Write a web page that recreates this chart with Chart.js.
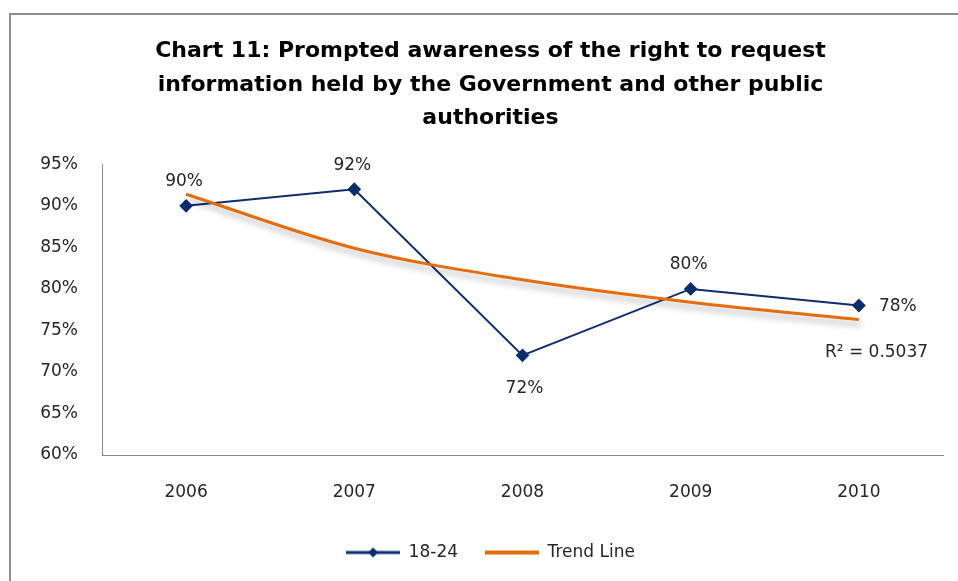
<!DOCTYPE html>
<html>
<head>
<meta charset="utf-8">
<script src="https://cdn.jsdelivr.net/npm/chart.js@4/dist/chart.umd.min.js"></script>
<style>
  html, body { margin: 0; padding: 0; background: #fff; }
  #wrap { width: 958px; height: 581px; }
</style>
</head>
<body>
<div id="wrap"><canvas id="chart11" width="958" height="581"></canvas></div>
<script>
const years = ['2006', '2007', '2008', '2009', '2010'];
const youthValues = [90, 92, 72, 80, 78];
// trend line values
const trendValues = [91.4, 84.9, 81.1, 78.4, 76.3];
const yTicks = [60, 65, 70, 75, 80, 85, 90, 95];
const rSquared = 'R² = 0.5037';

const navy = '#0b2d6e';
const orange = '#e46c0a';
const textFont = 'DejaVu Sans';

// little legend pictures: line with diamond, plain thick line
const makeLegendIcon = function makeLegendIcon(color, lineWidth, diamond) {
  const c = document.createElement('canvas');
  c.width = 54;
  c.height = 12;
  const g = c.getContext('2d');
  g.strokeStyle = color;
  g.lineWidth = lineWidth;
  g.beginPath();
  g.moveTo(0, 6);
  g.lineTo(54, 6);
  g.stroke();
  if (diamond) {
    g.fillStyle = color;
    g.beginPath();
    g.moveTo(27, 1);
    g.lineTo(32, 6);
    g.lineTo(27, 11);
    g.lineTo(22, 6);
    g.closePath();
    g.fill();
  }
  return c;
};

const frameBox = {
  id: 'frameBox',
  beforeDraw(chart) {
    const { ctx } = chart;
    ctx.save();
    ctx.strokeStyle = '#8c8c8c';
    ctx.lineWidth = 2;
    ctx.strokeRect(10, 14, 1000, 1000);
    ctx.restore();
  },
};

const trendShadow = {
  id: 'trendShadow',
  beforeDatasetDraw(chart, args) {
    if (args.index !== 1) return;
    const { ctx } = chart;
    ctx.save();
    ctx.shadowColor = 'rgba(0, 0, 0, 0.3)';
    ctx.shadowBlur = 6;
    ctx.shadowOffsetX = 2;
    ctx.shadowOffsetY = 5;
  },
  afterDatasetDraw(chart, args) {
    if (args.index !== 1) return;
    chart.ctx.restore();
  },
};

const pointLabels = {
  id: 'pointLabels',
  afterDatasetsDraw(chart) {
    const { ctx } = chart;
    const places = ['above', 'above', 'below', 'above', 'right'];
    const meta = chart.getDatasetMeta(0);
    ctx.save();
    ctx.font = '17px "' + textFont + '"';
    ctx.fillStyle = '#262626';
    ctx.textBaseline = 'middle';
    meta.data.forEach((pt, i) => {
      const label = youthValues[i] + '%';
      if (places[i] === 'above') {
        ctx.textAlign = 'center';
        ctx.fillText(label, pt.x - 2, pt.y - 24);
      } else if (places[i] === 'below') {
        ctx.textAlign = 'center';
        ctx.fillText(label, pt.x + 2, pt.y + 33);
      } else {
        ctx.textAlign = 'left';
        ctx.fillText(label, pt.x + 20, pt.y + 1);
      }
    });
    const trendMeta = chart.getDatasetMeta(1);
    const last = trendMeta.data[trendMeta.data.length - 1];
    ctx.textAlign = 'left';
    ctx.fillText(rSquared, last.x - 34, last.y + 33);
    ctx.restore();
  },
};

const legendIcons = [makeLegendIcon(navy, 3, true), makeLegendIcon(orange, 4, false)];

// eslint-disable-next-line no-new, no-undef
new Chart(document.getElementById('chart11'), {
  type: 'line',
  data: {
    labels: years,
    datasets: [
      {
        label: '18-24',
        data: youthValues,
        borderColor: navy,
        backgroundColor: navy,
        borderWidth: 2,
        pointStyle: 'rectRot',
        pointRadius: 5.5,
        pointHoverRadius: 5.5,
        tension: 0,
        order: 1,
      },
      {
        label: 'Trend Line',
        data: trendValues,
        borderColor: orange,
        backgroundColor: orange,
        borderWidth: 3,
        pointRadius: 0,
        cubicInterpolationMode: 'monotone',
        order: 0,
      },
    ],
  },
  options: {
    responsive: false,
    animation: false,
    layout: { padding: { left: 38, right: 15, top: 0, bottom: 10 } },
    plugins: {
      tooltip: { enabled: false },
      title: {
        display: true,
        text: [
          'Chart 11: Prompted awareness of the right to request',
          'information held by the Government and other public',
          'authorities',
        ],
        color: '#000',
        font: { family: textFont, size: 22, weight: 'bold', lineHeight: 1.52 },
        padding: { top: 35, bottom: 29 },
      },
      legend: {
        position: 'bottom',
        labels: {
          usePointStyle: true,
          pointStyleWidth: 54,
          padding: 27,
          color: '#262626',
          font: { family: textFont, size: 17 },
          generateLabels: () => [
            { text: '18-24', pointStyle: legendIcons[0], datasetIndex: 0, fontColor: '#262626', lineWidth: 0 },
            { text: 'Trend Line', pointStyle: legendIcons[1], datasetIndex: 1, fontColor: '#262626', lineWidth: 0 },
          ],
        },
      },
    },
    scales: {
      x: {
        offset: true,
        grid: { display: false, drawTicks: false },
        border: { display: true, color: '#878787', width: 1 },
        ticks: { color: '#262626', font: { family: textFont, size: 17 }, padding: 27 },
        afterFit(scale) { scale.height = 62; },
      },
      y: {
        min: yTicks[0],
        max: yTicks[yTicks.length - 1],
        grid: { display: false, drawTicks: false },
        border: { display: true, color: '#878787', width: 1 },
        afterBuildTicks(scale) { scale.ticks = yTicks.map((v) => ({ value: v })); },
        ticks: {
          color: '#262626',
          font: { family: textFont, size: 17 },
          padding: 24,
          callback: (v) => v + '%',
        },
        afterFit(scale) { scale.width = 64; },
      },
    },
  },
  plugins: [frameBox, trendShadow, pointLabels],
});
</script>
</body>
</html>
